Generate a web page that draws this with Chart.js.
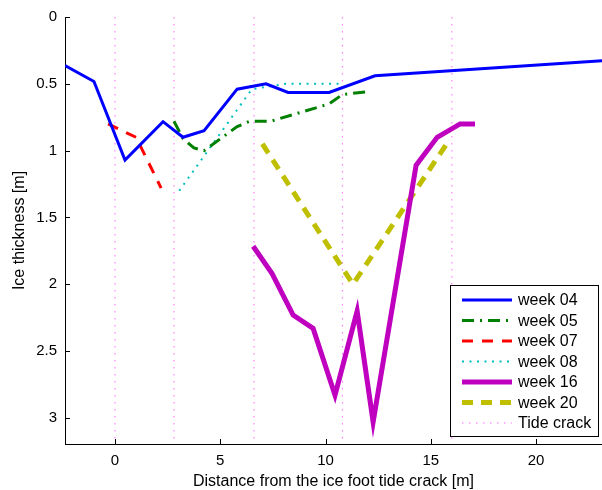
<!DOCTYPE html>
<html><head><meta charset="utf-8">
<script src="https://cdn.jsdelivr.net/npm/chart.js@4.4.1/dist/chart.umd.min.js"></script>
<style>html,body{margin:0;padding:0;background:#fff}canvas{display:block}</style>
</head><body>
<canvas id="c" width="602" height="490"></canvas>
<script>
// ---- data ----
const week04X = [-2.375, -1.0, 0.475, 2.28, 3.23, 4.23, 5.80, 7.17, 8.22, 10.17, 12.35, 23.13];
const week04Y = [0.364, 0.483, 1.07, 0.783, 0.90, 0.85, 0.54, 0.50, 0.565, 0.565, 0.44, 0.327];
const week05X = [2.8, 3.23, 3.75, 4.23, 5.8, 6.4, 7.4, 10.17, 10.8, 11.9];
const week05Y = [0.78, 0.91, 0.98, 1.00, 0.82, 0.78, 0.78, 0.65, 0.58, 0.56];
const week07X = [-0.33, 1.0, 2.19];
const week07Y = [0.80, 0.90, 1.28];
const week08X = [3.05, 6.5, 8.1, 10.8];
const week08Y = [1.30, 0.54, 0.50, 0.50];
const week16X = [6.56, 7.46, 8.46, 9.41, 10.45, 11.50, 12.26, 14.3, 15.3, 16.39, 17.1];
const week16Y = [1.715, 1.92, 2.23, 2.33, 2.83, 2.20, 3.03, 1.11, 0.90, 0.80, 0.80];
const week20X = [7.0, 11.3, 15.75];
const week20Y = [0.95, 2.0, 0.95];
const tideCrackX = [0, 2.8, 6.6, 10.8, 16.0];
const tideCrackSpan = [0, 3.2];
const xTicks = [0, 5, 10, 15, 20];
const yTicks = [0, 0.5, 1, 1.5, 2, 2.5, 3];
const seriesNames = ['week 04', 'week 05', 'week 07', 'week 08', 'week 16', 'week 20', 'Tide crack'];

const FONT = "'Liberation Sans', Arial, Helvetica, sans-serif";
const pts = (xs, ys) => xs.map((x, i) => ({x, y: ys[i]}));
const crackPts = [];
tideCrackX.forEach(x => { crackPts.push({x, y: tideCrackSpan[0]}, {x, y: tideCrackSpan[1]}, {x, y: null}); });

const styles = [
  {color: '#0000ff', width: 3, dash: []},
  {color: '#008000', width: 3, dash: [12, 6, 2, 6]},
  {color: '#ff0000', width: 3, dash: [11, 9]},
  {color: '#00bfbf', width: 2, dash: [2, 5.5]},
  {color: '#bf00bf', width: 5, dash: []},
  {color: '#bfbf00', width: 5, dash: [11, 8]},
  {color: 'rgba(255,0,255,0.6)', width: 1, dash: [1.5, 5.5]}
];
const seriesData = [pts(week04X, week04Y), pts(week05X, week05Y), pts(week07X, week07Y), pts(week08X, week08Y),
  pts(week16X, week16Y), pts(week20X, week20Y), crackPts];

const datasets = seriesData.map((d, i) => ({
  label: seriesNames[i], data: d, borderColor: styles[i].color, borderWidth: styles[i].width,
  borderDash: styles[i].dash, pointRadius: 0, fill: false, tension: 0, spanGaps: false,
  borderCapStyle: 'butt', borderJoinStyle: 'miter', order: i === 6 ? 10 : i
}));

const inwardTicks = {
  id: 'inwardTicks',
  afterDraw(chart) {
    const ctx = chart.ctx, a = chart.chartArea, xs = chart.scales.x, ys = chart.scales.y;
    ctx.save(); ctx.strokeStyle = '#000'; ctx.lineWidth = 1; ctx.beginPath();
    xTicks.forEach(v => { const p = Math.round(xs.getPixelForValue(v)) + 0.5; ctx.moveTo(p, a.bottom); ctx.lineTo(p, a.bottom - 5); });
    yTicks.forEach(v => { const p = Math.round(ys.getPixelForValue(v)) + 0.5; ctx.moveTo(a.left, p); ctx.lineTo(a.left + 5, p); });
    ctx.stroke(); ctx.restore();
  }
};

const boxLegend = {
  id: 'boxLegend',
  afterDraw(chart) {
    const ctx = chart.ctx;
    const L = 450.5, T = 285.5, R = 598.5, B = 436.5;
    ctx.save();
    ctx.fillStyle = '#fff'; ctx.fillRect(L, T, R - L, B - T);
    ctx.strokeStyle = '#000'; ctx.lineWidth = 1; ctx.setLineDash([]); ctx.strokeRect(L, T, R - L, B - T);
    chart.data.datasets.forEach((ds, i) => {
      const y = 300 + i * 20.5;
      ctx.beginPath(); ctx.strokeStyle = ds.borderColor; ctx.lineWidth = ds.borderWidth;
      ctx.setLineDash(ds.borderDash); ctx.lineCap = 'butt';
      ctx.moveTo(462, y); ctx.lineTo(512, y); ctx.stroke();
      ctx.setLineDash([]);
      ctx.fillStyle = '#000'; ctx.font = '16px ' + FONT; ctx.textBaseline = 'middle'; ctx.textAlign = 'left';
      ctx.fillText(ds.label, 518, y + 1);
    });
    ctx.restore();
  }
};

new Chart(document.getElementById('c'), {
  type: 'line',
  data: {datasets},
  options: {
    responsive: false, animation: false, devicePixelRatio: 1,
    layout: {padding: {top: 14, left: 0, right: 0, bottom: 0}},
    plugins: {legend: {display: false}, tooltip: {enabled: false}},
    scales: {
      x: {
        type: 'linear', min: -2.375, max: 23.13,
        afterFit: s => { s.height = 46; },
        afterBuildTicks: s => { s.ticks = xTicks.map(v => ({value: v})); },
        grid: {display: false, drawTicks: false},
        border: {display: true, color: '#000', width: 1},
        ticks: {color: '#000', font: {family: FONT, size: 15}, padding: 8, maxRotation: 0, autoSkip: false,
          callback: v => String(v)},
        title: {display: true, text: 'Distance from the ice foot tide crack [m]', color: '#000',
          font: {family: FONT, size: 16, lineHeight: 1}, padding: {top: 0, bottom: 0}}
      },
      y: {
        type: 'linear', reverse: true, min: 0, max: 3.195,
        afterFit: s => { s.width = 65; },
        afterBuildTicks: s => { s.ticks = yTicks.map(v => ({value: v})); },
        grid: {display: false, drawTicks: false},
        border: {display: true, color: '#000', width: 1},
        ticks: {color: '#000', font: {family: FONT, size: 15}, padding: 8, autoSkip: false,
          callback: v => String(v)},
        title: {display: true, text: 'Ice thickness [m]', color: '#000',
          font: {family: FONT, size: 16, lineHeight: 1}, padding: {top: 12, bottom: 0}}
      }
    }
  },
  plugins: [inwardTicks, boxLegend]
});
</script>
</body></html>
